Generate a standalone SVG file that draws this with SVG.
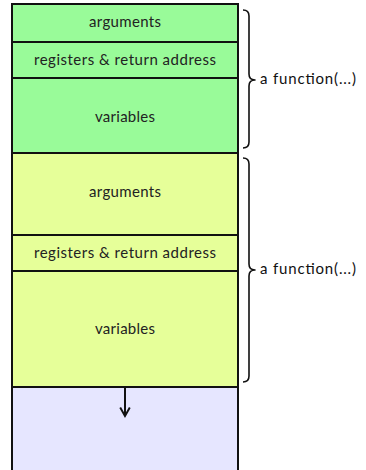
<svg xmlns="http://www.w3.org/2000/svg" width="366" height="470" viewBox="0 0 366 470">
  <style>
    .lbl { font-family: Lato, "Noto Sans", sans-serif; font-size: 15px; fill: #222; text-anchor: middle; }
    .side { font-family: Lato, "Noto Sans", sans-serif; font-size: 15px; fill: #111; }
    .box { stroke: #111; stroke-width: 2; }
    .brace { fill: none; stroke: #111; stroke-width: 1.6; stroke-linejoin: round; }
    .green { fill: #99fb99; }
    .lime { fill: #e6ff99; }
    .free { fill: #e6e6ff; }
  </style>
  <defs>
    <marker id="arrowhead" viewBox="0 0 10 10" refX="8" refY="5" markerWidth="6" markerHeight="6" orient="auto">
      <path d="M1,1 L8,5 L1,9" fill="none" stroke="#111" stroke-width="1.6"/>
    </marker>
  </defs>

  <!-- caller frame -->
  <g id="frame1">
    <rect class="box green" x="12" y="4" width="226" height="38"/>
    <text class="lbl" x="125" y="27" textLength="72">arguments</text>
    <rect class="box green" x="12" y="42" width="226" height="36"/>
    <text class="lbl" x="125" y="65" textLength="182">registers &amp; return address</text>
    <rect class="box green" x="12" y="78" width="226" height="75"/>
    <text class="lbl" x="125" y="122" textLength="60">variables</text>
  </g>

  <!-- callee frame -->
  <g id="frame2">
    <rect class="box lime" x="12" y="153" width="226" height="82"/>
    <text class="lbl" x="125" y="197" textLength="72">arguments</text>
    <rect class="box lime" x="12" y="235" width="226" height="36"/>
    <text class="lbl" x="125" y="258" textLength="182">registers &amp; return address</text>
    <rect class="box lime" x="12" y="271" width="226" height="116"/>
    <text class="lbl" x="125" y="334" textLength="60">variables</text>
  </g>

  <!-- unused stack space -->
  <g id="free">
    <rect class="box free" x="12" y="387" width="226" height="90"/>
  </g>

  <!-- braces -->
  <g id="brace1">
    <path class="brace" d="M243,10 Q249,10 249,16 L249,74 Q249,80 255,80 Q249,80 249,86 L249,142 Q249,148 243,148"/>
    <text class="side" x="260" y="84" textLength="96">a function(...)</text>
  </g>
  <g id="brace2">
    <path class="brace" d="M243,158 Q249,158 249,164 L249,264 Q249,270 255,270 Q249,270 249,276 L249,376 Q249,382 243,382"/>
    <text class="side" x="260" y="274" textLength="96">a function(...)</text>
  </g>

  <!-- growth direction -->
  <g id="connectors">
    <line x1="125" y1="388" x2="125" y2="416" stroke="#111" stroke-width="2" marker-end="url(#arrowhead)"/>
  </g>
</svg>
